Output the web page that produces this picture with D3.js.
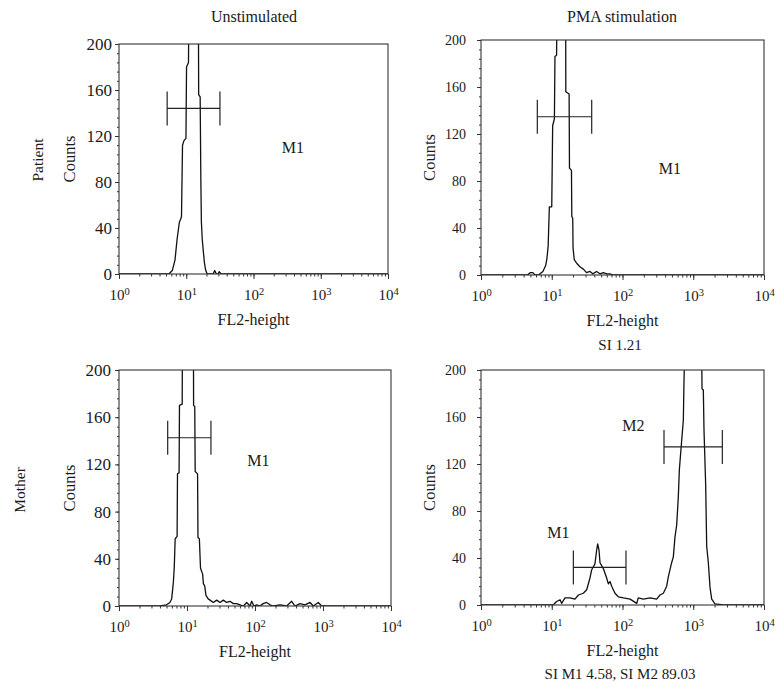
<!DOCTYPE html>
<html>
<head>
<meta charset="utf-8">
<script src="https://cdn.jsdelivr.net/npm/d3@7"></script>
<style>
  body { margin: 0; background: #fff; }
  svg text { font-family: "Liberation Serif", "DejaVu Serif", serif; fill: #1a1a1a; }
</style>
</head>
<body>
<div id="chart"></div>
<script>
// column / row headings
const colTitles = ['Unstimulated', 'PMA stimulation'];
const rowLabels = ['Patient', 'Mother'];
const yMajorTicks = [0, 40, 80, 120, 160, 200];
const xDecades = [1, 10, 100, 1000, 10000];

// Patient, unstimulated (FL2 channel value -> counts)
const patientUnstimFL2 = [1, 5.5, 6.2, 6.8, 7.3, 7.9, 8.3, 8.5, 8.8, 9.25, 9.9, 10.1, 10.8, 11.0,
  15.1, 15.3, 16.1, 16.5, 16.8, 17.3, 17.8, 18.6, 19.5, 20.5, 25, 26.5, 28, 29.5, 31, 33, 35, 10000];
const patientUnstimCounts = [0, 0, 3, 12, 30, 45, 48, 50, 112, 116, 118, 180, 184, 260,
  260, 156, 154, 80, 45, 30, 22, 10, 3, 0, 0, 3, 0, 0, 2, 0, 0, 0];

// Patient, PMA stimulation
const patientPmaFL2 = [1, 4.5, 5.0, 5.4, 5.8, 6.5, 7.5, 8.2, 8.5, 8.75, 8.9, 9.25, 10.0, 10.3, 10.9, 11.1, 11.7, 12.0,
  15.7, 15.8, 17.6, 17.8, 19.0, 19.2, 19.8, 20.0, 20.8, 22.5, 25, 28, 31, 34.7, 38, 43, 48, 53.5, 60, 66.5, 74, 80, 10000];
const patientPmaCounts = [0, 0, 2, 2, 0, 0, 3, 8, 13, 20, 25, 58, 58, 127, 133, 186, 187, 260,
  260, 156, 154, 91, 89, 50, 48, 23, 13, 10, 7, 5, 2, 3, 1, 3, 1, 2, 1, 1, 0, 0, 0];

// Mother, unstimulated
const motherUnstimFL2 = [1, 4.0, 5.0, 5.6, 5.95, 6.3, 6.5, 6.7, 7.15, 7.25, 7.65, 7.75, 8.5, 8.6,
  12.4, 12.5, 13.0, 13.2, 14.3, 14.5, 15.2, 15.8, 17.0, 17.4, 18.2, 19.0, 20.5, 21.8,
  24.4, 27.3, 30.6, 34.2, 38.3, 42.9, 47.9, 53.7, 60.2, 67.4, 75.5, 84.4, 89.4, 96.7, 106, 118,
  132, 148, 166, 186, 234, 292, 346, 387, 459, 543, 645, 720, 852, 955, 1000, 10000];
const motherUnstimCounts = [0, 0, 1, 3, 6, 20, 33, 57, 59, 112, 113, 170, 171, 260,
  260, 170, 169, 114, 112, 58, 57, 32, 27, 19, 17, 9, 6, 5,
  3, 5, 3, 5, 3, 4, 2, 2, 1, 0, 3, 0, 4, 0, 1, 0,
  2, 3, 1, 0, 1, 0, 4, 0, 2, 1, 3, 0, 3, 0, 0, 0];

// Mother, PMA stimulation
const motherPmaFL2 = [1, 10.5, 11.7, 13.1, 13.8, 15.4, 18.1, 21.3, 23.8, 27.9, 31.2, 34.7, 36.7, 40.8, 43.2,
  44.6, 46.5, 48.1, 53.6, 59.7, 63.1, 66.6, 70.3, 78.3, 87.3, 103, 128, 159, 167, 197, 245, 304, 339, 378,
  421, 444, 495, 523, 552, 583, 615, 636, 686, 724, 740, 790,
  1300, 1330, 1388, 1419, 1497, 1549, 1634, 1726, 1822, 2029, 2660, 10000];
const motherPmaCounts = [0, 0, 3, 4.5, 1.4, 6, 6, 5, 8.5, 10, 13, 23, 30, 35, 47,
  52, 47, 36, 31, 23, 18, 20, 16, 10, 7, 6, 5, 1.4, 6, 5, 6, 5, 8.5, 10,
  16, 24, 36, 41, 58, 68, 92, 115, 140, 157, 191, 260,
  260, 184, 183, 149, 103, 50, 36, 15, 5, 1, 0, 0];

// gates: range in FL2, level in counts, label spot in data units
const patientUnstimGates = [{ name: 'M1', lo: 5.2, hi: 31.7, level: 144, labelFL2: 385, labelCount: 110 }];
const patientPmaGates = [{ name: 'M1', lo: 6.25, hi: 36.7, level: 134.7, labelFL2: 469, labelCount: 91 }];
const motherUnstimGates = [{ name: 'M1', lo: 5.2, hi: 22.5, level: 142.6, labelFL2: 112, labelCount: 123 }];
const motherPmaGates = [
  { name: 'M1', lo: 20.2, hi: 112, level: 32, labelFL2: 12.4, labelCount: 62 },
  { name: 'M2', lo: 386, hi: 2577, level: 134.5, labelFL2: 142, labelCount: 153 }
];

const svg = d3.select('#chart').append('svg')
  .attr('width', 784)
  .attr('height', 691);

const panels = [
  { id: 'pu', left: 119, right: 388, top: 44, bottom: 274, fl2: patientUnstimFL2, counts: patientUnstimCounts, gates: patientUnstimGates, yFont: 17, yPad: 3 },
  { id: 'pp', left: 481, right: 764, top: 40, bottom: 275, fl2: patientPmaFL2, counts: patientPmaCounts, gates: patientPmaGates, yFont: 14, yPad: 11 },
  { id: 'mu', left: 119, right: 391, top: 370, bottom: 606, fl2: motherUnstimFL2, counts: motherUnstimCounts, gates: motherUnstimGates, yFont: 17, yPad: 4 },
  { id: 'mp', left: 481, right: 764, top: 370, bottom: 605, fl2: motherPmaFL2, counts: motherPmaCounts, gates: motherPmaGates, yFont: 14, yPad: 11 }
];

function drawPanel(p) {
  const x = d3.scaleLog().domain([1, 10000]).range([p.left, p.right]);
  const y = d3.scaleLinear().domain([0, 200]).range([p.bottom, p.top]);
  const g = svg.append('g').attr('class', 'panel-' + p.id);

  g.append('clipPath').attr('id', 'clip-' + p.id)
    .append('rect')
    .attr('x', p.left).attr('y', p.top)
    .attr('width', p.right - p.left).attr('height', p.bottom - p.top);

  // minor ticks first, then major ones with labels
  g.append('g')
    .attr('transform', `translate(${p.left},0)`)
    .call(d3.axisLeft(y).tickValues(d3.range(0, 201, 8)).tickSize(2).tickFormat(''))
    .call(a => a.select('.domain').remove())
    .call(a => a.selectAll('line').attr('stroke', '#333'));

  g.append('g')
    .attr('transform', `translate(${p.left},0)`)
    .call(d3.axisLeft(y).tickValues(yMajorTicks).tickSize(4).tickPadding(p.yPad))
    .call(a => a.select('.domain').remove())
    .call(a => a.selectAll('line').attr('stroke', '#333'))
    .call(a => a.selectAll('text')
      .attr('font-family', '"Liberation Serif", serif')
      .attr('font-size', p.yFont)
      .attr('fill', '#1a1a1a'));

  g.append('g')
    .attr('transform', `translate(0,${p.bottom})`)
    .call(d3.axisBottom(x).tickValues(x.ticks()).tickSize(2.5).tickFormat(''))
    .call(a => a.select('.domain').remove())
    .call(a => a.selectAll('line').attr('stroke', '#333'));

  g.append('g')
    .attr('transform', `translate(0,${p.bottom})`)
    .call(d3.axisBottom(x).tickValues(xDecades).tickSize(5).tickPadding(10))
    .call(a => a.select('.domain').remove())
    .call(a => a.selectAll('line').attr('stroke', '#333'))
    .call(a => a.selectAll('text')
      .attr('font-family', '"Liberation Serif", serif')
      .attr('font-size', 15)
      .attr('fill', '#1a1a1a')
      .each(function(d) {
        const t = d3.select(this);
        t.text('10');
        t.append('tspan')
          .attr('dy', '-0.45em')
          .attr('font-size', 10.5)
          .text(Math.round(Math.log10(d)));
      }));

  // histogram trace
  const line = d3.line()
    .x(d => x(d[0]))
    .y(d => y(d[1]));

  g.append('path')
    .datum(d3.zip(p.fl2, p.counts))
    .attr('clip-path', `url(#clip-${p.id})`)
    .attr('fill', 'none')
    .attr('stroke', '#111')
    .attr('stroke-width', 1.3)
    .attr('stroke-linejoin', 'round')
    .attr('d', line);

  // frame
  g.append('rect')
    .attr('x', p.left).attr('y', p.top)
    .attr('width', p.right - p.left).attr('height', p.bottom - p.top)
    .attr('fill', 'none')
    .attr('stroke', '#333')
    .attr('stroke-width', 1.1);

  // marker gates
  const gate = g.selectAll('.gate')
    .data(p.gates)
    .enter()
    .append('g')
    .attr('class', 'gate');

  gate.append('line')
    .attr('x1', d => x(d.lo)).attr('x2', d => x(d.hi))
    .attr('y1', d => y(d.level)).attr('y2', d => y(d.level));
  gate.append('line')
    .attr('x1', d => x(d.lo)).attr('x2', d => x(d.lo))
    .attr('y1', d => y(d.level) - 17).attr('y2', d => y(d.level) + 17);
  gate.append('line')
    .attr('x1', d => x(d.hi)).attr('x2', d => x(d.hi))
    .attr('y1', d => y(d.level) - 17).attr('y2', d => y(d.level) + 17);
  gate.selectAll('line')
    .attr('stroke', '#222')
    .attr('stroke-width', 1.2);

  gate.append('text')
    .attr('x', d => x(d.labelFL2))
    .attr('y', d => y(d.labelCount))
    .attr('dy', '0.35em')
    .attr('text-anchor', 'middle')
    .attr('font-size', 16)
    .text(d => d.name);

  // axis titles
  g.append('text')
    .attr('x', (p.left + p.right) / 2)
    .attr('y', p.bottom + 51)
    .attr('text-anchor', 'middle')
    .attr('font-size', 16)
    .text('FL2-height');

  const countsX = p.left < 300 ? 75 : 435;
  g.append('text')
    .attr('transform', `translate(${countsX},${(p.top + p.bottom) / 2}) rotate(-90)`)
    .attr('text-anchor', 'middle')
    .attr('font-size', 16.5)
    .text('Counts');
}

panels.forEach(drawPanel);

// column titles
svg.selectAll('.col-title')
  .data(colTitles)
  .enter()
  .append('text')
  .attr('class', 'col-title')
  .attr('x', (d, i) => i === 0 ? 254 : 622)
  .attr('y', 22)
  .attr('text-anchor', 'middle')
  .attr('font-size', 16)
  .text(d => d);

// row labels
svg.selectAll('.row-label')
  .data(rowLabels)
  .enter()
  .append('text')
  .attr('class', 'row-label')
  .attr('transform', (d, i) => i === 0 ? 'translate(43,160) rotate(-90)' : 'translate(25,490) rotate(-90)')
  .attr('text-anchor', 'middle')
  .attr('font-size', 15.5)
  .text(d => d);

// stimulation index notes on the mother's PMA panel
svg.append('text')
  .attr('x', 620).attr('y', 350)
  .attr('text-anchor', 'middle')
  .attr('font-size', 15)
  .text('SI 1.21');

svg.append('text')
  .attr('x', 620).attr('y', 679)
  .attr('text-anchor', 'middle')
  .attr('font-size', 15)
  .text('SI M1 4.58, SI M2 89.03');
</script>
</body>
</html>
